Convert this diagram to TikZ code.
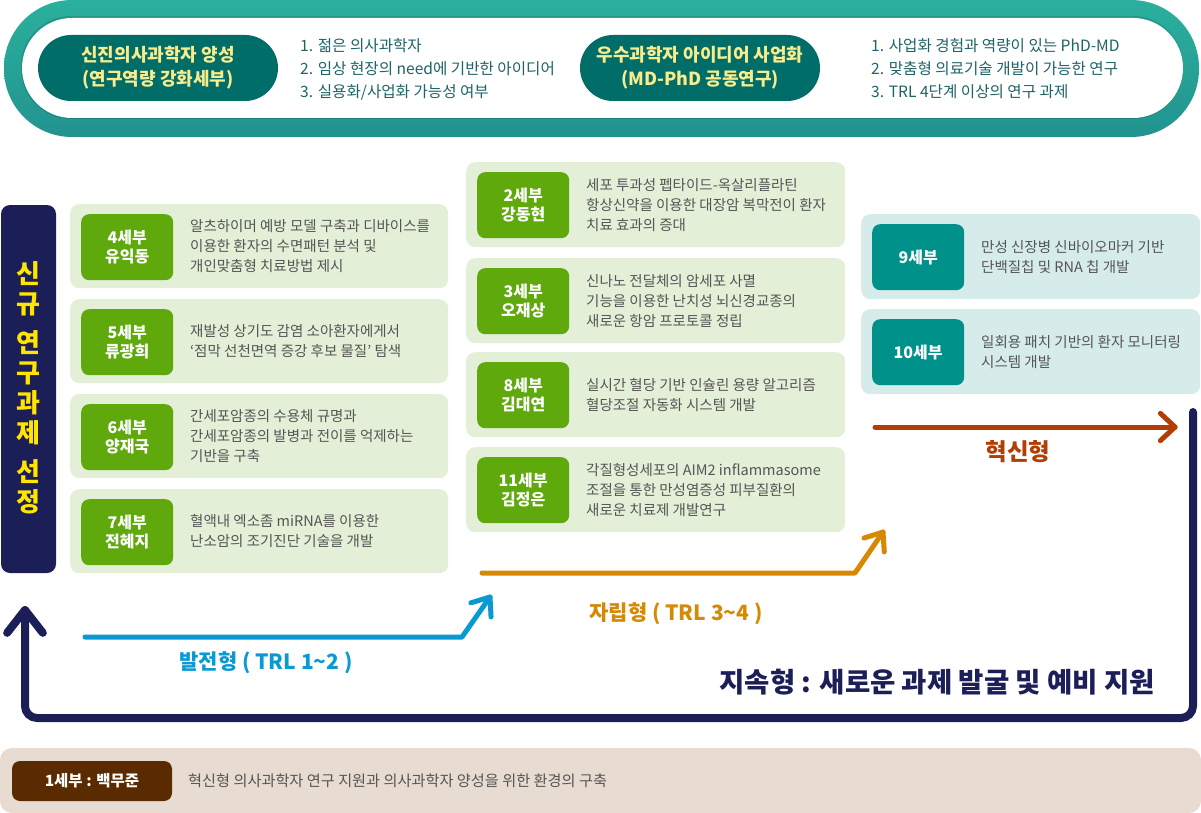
\documentclass[tikz,border=0pt]{standalone}
\usepackage{fontspec}
\setmainfont{Noto Sans CJK KR}
\usetikzlibrary{calc,arrows.meta}
\definecolor{tealA}{HTML}{2BB09D}
\definecolor{tealB}{HTML}{22938F}
\definecolor{pillteal}{HTML}{006D68}
\definecolor{pilltext}{HTML}{F8EC8C}
\definecolor{listtext}{HTML}{1E6466}
\definecolor{navy}{HTML}{1C1F57}
\definecolor{vyellow}{HTML}{FFE500}
\definecolor{lgreen}{HTML}{E3EFD7}
\definecolor{tgreen}{HTML}{5FA90C}
\definecolor{lteal}{HTML}{D6ECEB}
\definecolor{tteal}{HTML}{00918A}
\definecolor{descgray}{HTML}{555555}
\definecolor{bblue}{HTML}{0A9AD3}
\definecolor{borange}{HTML}{D68A04}
\definecolor{bred}{HTML}{B23E06}
\definecolor{beige}{HTML}{E8DCD2}
\definecolor{dbrown}{HTML}{5A2A00}
\tikzset{
  pill/.style={fill=pillteal, rounded corners=33pt, minimum width=240pt, minimum height=66pt, inner sep=0pt,
    text=pilltext, align=center, font=\bfseries\fontsize{18}{24}\selectfont},
  toplist/.style={anchor=west, inner sep=0pt, align=left, text=listtext, font=\fontsize{15.6}{23}\selectfont},
  leftrow/.style={anchor=north west, fill=lgreen, rounded corners=9pt, minimum width=378pt, minimum height=84pt, inner sep=0pt},
  midrow/.style={anchor=north west, fill=lgreen, rounded corners=9pt, minimum width=379pt, minimum height=85pt, inner sep=0pt},
  rightrow/.style={anchor=north west, fill=lteal, rounded corners=9pt, minimum width=339pt, minimum height=85pt, inner sep=0pt},
  gtag/.style={anchor=north west, fill=tgreen, rounded corners=8pt, minimum width=92pt, minimum height=66pt, inner sep=0pt,
    text=white, align=center, font=\bfseries\fontsize{16}{19}\selectfont},
  ttag/.style={gtag, fill=tteal},
  desc/.style={anchor=west, inner sep=0pt, align=left, text=descgray, font=\fontsize{14.5}{20}\selectfont},
  flow/.style={line width=5pt, line cap=round, line join=round},
  flowlabel/.style={inner sep=0pt, font=\bfseries\fontsize{21}{24}\selectfont},
}
\newcommand\mkrow[7]{%
  \node[#4] (#1) at (#2,#3) {};
  \node[#5] (#1t) at ($(#1.north west)+(11,10)$) {#6};
  \node[desc] (#1d) at ($(#1.west)+(120,0)$) {#7};
}
\newcommand\chev[4]{% tip, from, length, angle
  \draw ($(#1)!#3!#4:(#2)$) -- (#1) -- ($(#1)!#3!-#4:(#2)$);
}
\begin{document}
\begin{tikzpicture}[x=1pt, y=-1pt]
\useasboundingbox (0,0) rectangle (1201,813);
% top banner
\path[top color=tealA, bottom color=tealB, rounded corners=68pt] (4,0) rectangle (1199,137);
\fill[black, opacity=0.12, rounded corners=50pt] (21,16) rectangle (1183,119);
\fill[white, rounded corners=50pt] (22,18) rectangle (1183,118);
\node[pill] (p1) at (158,68) {신진의사과학자 양성\\(연구역량 강화세부)};
\node[pill] (p2) at (700,68) {우수과학자 아이디어 사업화\\(MD-PhD 공동연구)};
\node[toplist] (l1) at (300,69) {1. 젊은 의사과학자\\2. 임상 현장의 need에 기반한 아이디어\\3. 실용화/사업화 가능성 여부};
\node[toplist] (l2) at (871,69) {1. 사업화 경험과 역량이 있는 PhD-MD\\2. 맞춤형 의료기술 개발이 가능한 연구\\3. TRL 4단계 이상의 연구 과제};
% vertical bar
\fill[navy, rounded corners=9pt] (1,205) rectangle (56,573);
\node[inner sep=0pt, align=center, text=vyellow, font=\bfseries\fontsize{26}{30}\selectfont] (vt) at (28,388)
  {신\\규\\[9pt]연\\구\\과\\제\\[9pt]선\\정};
% left column
\mkrow{s4}{70}{204}{leftrow}{gtag}{4세부\\유익동}{알츠하이머 예방 모델 구축과 디바이스를\\이용한 환자의 수면패턴 분석 및\\개인맞춤형 치료방법 제시}
\mkrow{s5}{70}{299}{leftrow}{gtag}{5세부\\류광희}{재발성 상기도 감염 소아환자에게서\\‘점막 선천면역 증강 후보 물질’ 탐색}
\mkrow{s6}{70}{394}{leftrow}{gtag}{6세부\\양재국}{간세포암종의 수용체 규명과\\간세포암종의 발병과 전이를 억제하는\\기반을 구축}
\mkrow{s7}{70}{489}{leftrow}{gtag}{7세부\\전혜지}{혈액내 엑소좀 miRNA를 이용한\\난소암의 조기진단 기술을 개발}
% middle column
\mkrow{s2}{466}{162}{midrow}{gtag}{2세부\\강동현}{세포 투과성 펩타이드-옥살리플라틴\\항상신약을 이용한 대장암 복막전이 환자\\치료 효과의 증대}
\mkrow{s3}{466}{258}{midrow}{gtag}{3세부\\오재상}{신나노 전달체의 암세포 사멸\\기능을 이용한 난치성 뇌신경교종의\\새로운 항암 프로토콜 정립}
\mkrow{s8}{466}{352}{midrow}{gtag}{8세부\\김대연}{실시간 혈당 기반 인슐린 용량 알고리즘\\혈당조절 자동화 시스템 개발}
\mkrow{s11}{466}{447}{midrow}{gtag}{11세부\\김정은}{각질형성세포의 AIM2 inflammasome\\조절을 통한 만성염증성 피부질환의\\새로운 치료제 개발연구}
% right column
\mkrow{s9}{861}{214}{rightrow}{ttag}{9세부}{만성 신장병 신바이오마커 기반\\단백질칩 및 RNA 칩 개발}
\mkrow{s10}{861}{309}{rightrow}{ttag}{10세부}{일회용 패치 기반의 환자 모니터링\\시스템 개발}
% flows
\coordinate (bS) at (85,637); \coordinate (bC) at (462,637); \coordinate (bT) at (490,597);
\coordinate (oS) at (482,573); \coordinate (oC) at (855,573); \coordinate (oT) at (883,532);
\coordinate (rS) at (875,427); \coordinate (rT) at (1175,427);
\coordinate (nR) at (1193,412); \coordinate (nRB) at (1193,718); \coordinate (nLB) at (25,718); \coordinate (nT) at (25,610);
\begin{scope}[flow, bblue]
  \draw (bS) -- (bC) -- (bT);
  \chev{bT}{bC}{20pt}{38}
\end{scope}
\begin{scope}[flow, borange]
  \draw (oS) -- (oC) -- (oT);
  \chev{oT}{oC}{20pt}{38}
\end{scope}
\begin{scope}[flow, bred]
  \draw (rS) -- (rT);
  \chev{rT}{rS}{20pt}{43}
\end{scope}
\begin{scope}[flow, navy, line width=8pt]
  \draw[rounded corners=12pt] (nR) -- (nRB) -- (nLB) -- (nT);
  \chev{nT}{nLB}{29pt}{38}
\end{scope}
\node[flowlabel, text=bblue] (bl) at (266,663) {발전형 ( TRL 1\textasciitilde 2 )};
\node[flowlabel, text=borange] (ol) at (676,614) {자립형 ( TRL 3\textasciitilde 4 )};
\node[flowlabel, text=bred, font=\bfseries\fontsize{23.5}{26}\selectfont] (rl) at (1018,452) {혁신형};
\node[inner sep=0pt, anchor=east, text=navy, font=\bfseries\fontsize{27.5}{30}\selectfont] (nl) at (1155,682) {지속형 : 새로운 과제 발굴 및 예비 지원};
% bottom band
\fill[beige, rounded corners=12pt] (0,748) rectangle (1201,813);
\node[fill=dbrown, rounded corners=8pt, minimum width=160pt, minimum height=40pt, inner sep=0pt, text=white,
  font=\bfseries\fontsize{15.5}{18}\selectfont] (s1) at (92,781) {1세부 : 백무준};
\node[desc, font=\fontsize{15.2}{18}\selectfont] (s1d) at (188,781) {혁신형 의사과학자 연구 지원과 의사과학자 양성을 위한 환경의 구축};
\end{tikzpicture}
\end{document}
